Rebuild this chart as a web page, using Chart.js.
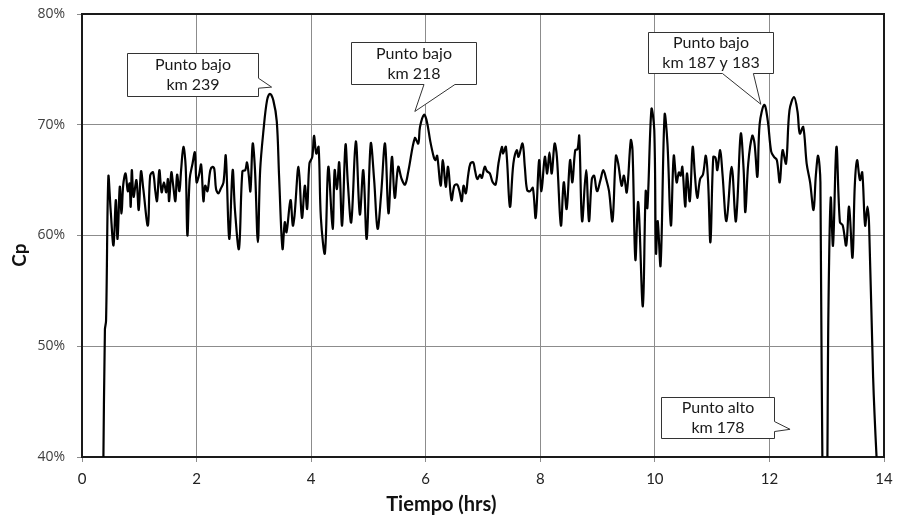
<!DOCTYPE html>
<html>
<head>
<meta charset="utf-8">
<title>Cp vs Tiempo</title>
<script src="https://cdn.jsdelivr.net/npm/chart.js@4.4.1/dist/chart.umd.min.js"></script>
<style>
    html, body { margin: 0; padding: 0; background: #ffffff; }
    #cpChart { display: block; }
</style>
</head>
<body>
<canvas id="cpChart" width="899" height="517"></canvas>
<script>
// Tiempo en horas (eje x) y Cp en % (eje y)
const hours = [
    0.37, 0.40, 0.42, 0.46, 0.50, 0.55, 0.59, 0.62, 0.66, 0.69, 0.72, 0.76, 0.80, 0.83, 0.85, 0.87, 0.90, 0.95, 0.99,
    1.03, 1.07, 1.15, 1.19, 1.24, 1.28, 1.31, 1.35, 1.39, 1.43, 1.47, 1.50, 1.52, 1.56, 1.59, 1.63, 1.66, 1.70, 1.73,
    1.77, 1.81, 1.84, 1.88, 1.93, 1.97, 2.00, 2.04, 2.08, 2.12, 2.15, 2.19, 2.24, 2.28, 2.31, 2.34, 2.38, 2.42, 2.47,
    2.51, 2.57, 2.63, 2.67, 2.74, 2.80, 2.85, 2.88, 2.91, 2.94, 2.98, 3.02, 3.07, 3.11, 3.17, 3.23, 3.28, 3.34, 3.40,
    3.44, 3.50, 3.54, 3.57, 3.64, 3.68, 3.71, 3.78, 3.84, 3.89, 3.93, 3.97, 4.02, 4.05, 4.09, 4.13, 4.17, 4.24, 4.30,
    4.375, 4.41, 4.45, 4.49, 4.54, 4.60, 4.64, 4.70, 4.78, 4.85, 4.91, 4.97, 5.04, 5.10, 5.16, 5.22, 5.29, 5.35, 5.41,
    5.46, 5.52, 5.58, 5.64, 5.70, 5.81, 5.87, 5.90, 5.97, 6.02, 6.08, 6.14, 6.17, 6.20, 6.26, 6.30, 6.35, 6.39, 6.45,
    6.50, 6.55, 6.59, 6.63, 6.66, 6.70, 6.74, 6.78, 6.83, 6.86, 6.90, 6.95, 6.98, 7.03, 7.07, 7.12, 7.17, 7.22, 7.27,
    7.33, 7.35, 7.40, 7.47, 7.53, 7.59, 7.62, 7.69, 7.73, 7.77, 7.82, 7.87, 7.92, 7.98, 8.02, 8.08, 8.12, 8.16, 8.20,
    8.25, 8.29, 8.36, 8.41, 8.46, 8.52, 8.56, 8.61, 8.65, 8.68, 8.73, 8.80, 8.85, 8.90, 8.94, 8.99, 9.05, 9.10, 9.15,
    9.20, 9.26, 9.32, 9.36, 9.42, 9.46, 9.51, 9.58, 9.61, 9.66, 9.71, 9.79, 9.84, 9.87, 9.94, 9.99, 10.02, 10.05, 10.10,
    10.17, 10.22, 10.28, 10.33, 10.38, 10.42, 10.45, 10.48, 10.53, 10.56, 10.61, 10.66, 10.70, 10.74, 10.79, 10.84,
    10.89, 10.93, 10.97, 11.02, 11.06, 11.09, 11.14, 11.18, 11.25, 11.34, 11.41, 11.44, 11.50, 11.55, 11.58, 11.63,
    11.70, 11.74, 11.79, 11.83, 11.91, 11.97, 12.03, 12.08, 12.13, 12.18, 12.23, 12.29, 12.35, 12.43, 12.49, 12.53,
    12.59, 12.65, 12.71, 12.77, 12.81, 12.85, 12.89, 12.94, 12.99, 13.03, 13.07, 13.11, 13.17, 13.23, 13.28, 13.34,
    13.39, 13.45, 13.49, 13.53, 13.58, 13.62, 13.67, 13.71, 13.74, 13.81, 13.87, 13.90
];
const cp = [
    38.0, 51.5, 52.3, 65.3, 62.3, 59.1, 63.2, 59.7, 64.4, 62.0, 64.6, 65.6, 64.0, 64.7, 62.6, 65.9, 63.5, 65.0, 62.3,
    65.8, 64.2, 60.9, 65.4, 65.7, 64.0, 63.1, 65.9, 63.9, 64.8, 63.9, 65.1, 63.1, 65.7, 64.6, 63.1, 65.5, 64.0, 65.9,
    68.0, 66.2, 60.0, 65.1, 66.5, 67.5, 64.8, 65.4, 66.4, 63.1, 64.5, 64.0, 65.9, 66.2, 66.0, 64.2, 63.8, 64.2, 64.8,
    67.2, 59.7, 65.9, 62.3, 58.8, 65.8, 65.9, 66.6, 65.5, 64.0, 68.3, 65.9, 59.4, 65.9, 69.6, 72.2, 72.8, 72.2, 70.3,
    65.4, 58.8, 61.2, 60.3, 63.2, 60.9, 61.8, 66.2, 61.6, 64.5, 62.4, 66.5, 67.1, 69.0, 67.4, 68.0, 61.6, 58.4, 66.2,
    60.6, 65.9, 64.2, 66.6, 60.9, 68.2, 64.8, 61.2, 68.5, 61.9, 65.9, 59.7, 68.3, 65.0, 60.6, 63.6, 68.3, 62.0, 67.1,
    63.4, 66.2, 65.1, 64.6, 65.9, 68.8, 68.3, 69.8, 70.9, 70.3, 68.5, 67.1, 66.8, 67.2, 64.5, 66.8, 64.4, 66.2, 63.2,
    64.5, 64.6, 64.0, 63.1, 64.5, 63.8, 65.4, 66.5, 66.6, 65.9, 65.1, 65.5, 65.2, 66.2, 65.8, 65.6, 64.8, 64.6, 66.5,
    68.0, 67.4, 68.0, 62.6, 66.5, 67.7, 67.1, 68.3, 66.2, 64.1, 64.0, 64.3, 61.6, 66.8, 64.0, 67.1, 65.6, 67.5, 65.6,
    68.3, 67.1, 60.9, 64.8, 62.4, 66.8, 64.8, 67.7, 67.8, 69.0, 61.3, 65.9, 61.3, 65.1, 65.4, 64.0, 65.0, 65.9, 65.1,
    64.0, 61.3, 67.2, 66.5, 64.5, 65.4, 63.9, 68.6, 67.7, 57.8, 63.0, 53.6, 64.0, 62.5, 71.4, 69.5, 58.4, 61.3, 57.3,
    70.9, 68.3, 60.9, 67.2, 64.8, 65.7, 65.4, 66.2, 62.6, 65.6, 63.1, 68.0, 65.4, 63.4, 65.1, 65.5,
    67.2, 64.8, 59.4, 67.1, 67.0, 65.9, 67.7, 65.6, 61.3, 66.2, 61.3, 63.0, 69.2, 65.9, 62.1, 66.5,
    69.0, 68.3, 65.3, 70.1, 71.8, 70.4, 67.6, 67.1, 66.8, 64.8, 67.7, 66.5, 71.3, 72.5, 71.2, 69.2,
    69.8, 66.5, 64.8, 62.3, 65.4, 67.2, 64.8, 30.0, 30.0, 53.3, 63.4, 59.1, 68.0, 61.2, 60.9, 59.1,
    62.6, 58.0, 64.5, 66.8, 65.0, 65.7, 60.9, 62.6, 60.9, 47.2, 40.0, 38.0
];

// Ejes
const xTicks = [0, 2, 4, 6, 8, 10, 12, 14];
const yTicks = [40, 50, 60, 70, 80];

// Llamadas (texto, caja [izq, der, arriba, abajo] en horas / %, punta, base de la flecha)
const callouts = [
    { lines: ['Punto bajo', 'km 239'], box: [0.79, 3.08, 76.45, 72.6], side: 'right', base: [74.2, 73.3], tip: [3.31, 73.4] },
    { lines: ['Punto bajo', 'km 218'], box: [4.69, 6.88, 77.5, 73.7], side: 'bottom', base: [5.97, 6.51], tip: [5.81, 71.2] },
    { lines: ['Punto bajo', 'km 187 y 183'], box: [9.885, 12.07, 78.4, 74.7], side: 'bottom', base: [11.18, 11.72], tip: [11.85, 71.85] },
    { lines: ['Punto alto', 'km 178'], box: [10.10, 12.08, 45.45, 41.7], side: 'right', base: [43.2, 42.3], tip: [12.36, 42.5] }
];

const points = hours.map((h, i) => ({ x: h, y: cp[i] }));

// marco del área de trazado
const framePlugin = {
    id: 'frame',
    beforeDatasetsDraw(chart) {
        const { ctx, chartArea: a } = chart;
        ctx.save();
        ctx.strokeStyle = '#1a1a1a';
        ctx.lineWidth = 2;
        ctx.strokeRect(a.left, a.top, a.right - a.left, a.bottom - a.top);
        ctx.restore();
    }
};

// títulos de ejes
const titlesPlugin = {
    id: 'axisTitles',
    afterDraw(chart) {
        const { ctx, chartArea: a } = chart;
        ctx.save();
        ctx.fillStyle = '#111';
        ctx.font = 'bold 20px Lato, sans-serif';
        ctx.textAlign = 'center';
        ctx.textBaseline = 'middle';
        ctx.fillText('Tiempo (hrs)', a.left + (a.right - a.left) * 0.448, 505);
        ctx.translate(20, 255);
        ctx.rotate(-Math.PI / 2);
        ctx.font = 'bold 19px Lato, sans-serif';
        ctx.fillText('Cp', 0, 0);
        ctx.restore();
    }
};

// cuadros de texto con flecha
const calloutPlugin = {
    id: 'callouts',
    afterDatasetsDraw(chart) {
        const { ctx } = chart;
        const xs = chart.scales.x, ys = chart.scales.y;
        ctx.save();
        callouts.forEach(c => {
            const l = Math.round(xs.getPixelForValue(c.box[0])) + 0.5;
            const r = Math.round(xs.getPixelForValue(c.box[1])) + 0.5;
            const t = Math.round(ys.getPixelForValue(c.box[2])) + 0.5;
            const b = Math.round(ys.getPixelForValue(c.box[3])) + 0.5;
            const tx = xs.getPixelForValue(c.tip[0]);
            const ty = ys.getPixelForValue(c.tip[1]);

            ctx.beginPath();
            ctx.moveTo(l, t);
            ctx.lineTo(r, t);
            if (c.side === 'right') {
                ctx.lineTo(r, ys.getPixelForValue(c.base[0]));
                ctx.lineTo(tx, ty);
                ctx.lineTo(r, ys.getPixelForValue(c.base[1]));
                ctx.lineTo(r, b);
                ctx.lineTo(l, b);
            } else {
                ctx.lineTo(r, b);
                ctx.lineTo(xs.getPixelForValue(c.base[1]), b);
                ctx.lineTo(tx, ty);
                ctx.lineTo(xs.getPixelForValue(c.base[0]), b);
                ctx.lineTo(l, b);
            }
            ctx.closePath();
            ctx.fillStyle = '#ffffff';
            ctx.fill();
            ctx.strokeStyle = '#333';
            ctx.lineWidth = 1;
            ctx.stroke();

            ctx.fillStyle = '#1a1a1a';
            ctx.font = '16px Lato, sans-serif';
            ctx.textAlign = 'center';
            ctx.textBaseline = 'middle';
            const cx = (l + r) / 2, cy = (t + b) / 2;
            ctx.fillText(c.lines[0], cx, cy - 10);
            ctx.fillText(c.lines[1], cx, cy + 10);
        });
        ctx.restore();
    }
};

const ctx = document.getElementById('cpChart').getContext('2d');
new Chart(ctx, {
    type: 'line',
    data: {
        datasets: [{
            label: 'Cp',
            data: points,
            borderColor: '#000000',
            borderWidth: 2.2,
            pointRadius: 0,
            tension: 0.35,
            fill: false
        }]
    },
    options: {
        responsive: false,
        animation: false,
        devicePixelRatio: 1,
        layout: { padding: { top: 14, right: 15, left: 0, bottom: 0 } },
        plugins: {
            legend: { display: false },
            tooltip: { enabled: false }
        },
        scales: {
            x: {
                type: 'linear',
                min: 0,
                max: 14,
                afterBuildTicks: s => { s.ticks = xTicks.map(v => ({ value: v })); },
                afterFit: s => { s.height = 60; s.paddingLeft = 0; s.paddingRight = 0; },
                grid: { color: '#8c8c8c', lineWidth: 1, tickLength: 5, drawOnChartArea: true },
                border: { display: false },
                ticks: {
                    padding: 8,
                    color: '#222',
                    font: { family: 'Lato', size: 15 }
                }
            },
            y: {
                min: 40,
                max: 80,
                afterBuildTicks: s => { s.ticks = yTicks.map(v => ({ value: v })); },
                afterFit: s => { s.width = 82; s.paddingTop = 0; s.paddingBottom = 0; },
                grid: { color: '#8c8c8c', lineWidth: 1, tickLength: 5 },
                border: { display: false },
                ticks: {
                    padding: 12,
                    color: '#404040',
                    font: { family: 'Open Sans', size: 14 },
                    callback: v => v + '%'
                }
            }
        }
    },
    plugins: [framePlugin, calloutPlugin, titlesPlugin]
});
</script>
</body>
</html>
